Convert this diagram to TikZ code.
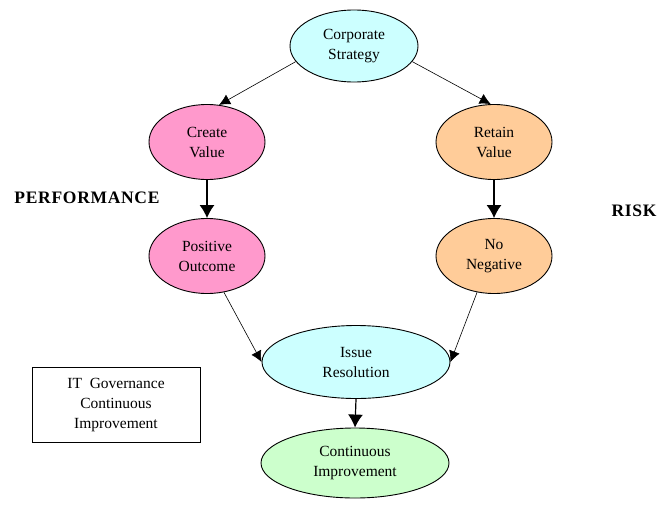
\documentclass[tikz,border=0pt]{standalone}
\usepackage{fontspec}
\setmainfont{Liberation Serif}
\usetikzlibrary{shapes.geometric,arrows.meta}
\definecolor{cyanfill}{HTML}{CCFFFF}
\definecolor{pinkfill}{HTML}{FF99CC}
\definecolor{orangefill}{HTML}{FFCC99}
\definecolor{greenfill}{HTML}{CCFFCC}
\begin{document}
\begin{tikzpicture}[x=1pt,y=-1pt,
  oval/.style={ellipse,draw,line width=0.9pt,inner sep=0pt,align=center,font=\fontsize{15.5}{20}\selectfont},
  thin arrow/.style={-{Latex[length=11pt,width=11pt]},line width=0.6pt},
  thick arrow/.style={-{Latex[length=13pt,width=15pt]},line width=1.2pt},
  lab/.style={font=\fontsize{17.5}{20}\selectfont\bfseries\addfontfeatures{LetterSpace=4}}]
\useasboundingbox (0,0) rectangle (660,506);
\node[oval,fill=cyanfill,minimum width=128pt,minimum height=72pt] (cs) at (354,46) {Corporate\\Strategy};
\node[oval,fill=pinkfill,minimum width=116pt,minimum height=75pt] (cv) at (207,142) {Create\\Value};
\node[oval,fill=orangefill,minimum width=116pt,minimum height=75pt] (rv) at (494,142) {Retain\\Value};
\node[oval,fill=pinkfill,minimum width=116pt,minimum height=75pt] (po) at (207,256) {Positive\\Outcome};
\node[oval,fill=orangefill,minimum width=116pt,minimum height=75pt] (nn) at (494,256) {No\\Negative};
\node[oval,fill=cyanfill,minimum width=188pt,minimum height=73pt] (ir) at (356,362) {Issue\\Resolution};
\node[oval,fill=greenfill,minimum width=188pt,minimum height=70pt] (ci) at (355,463) {Continuous\\Improvement};
\node[draw,line width=0.9pt,minimum width=168pt,minimum height=75pt,align=center,font=\fontsize{15.5}{20}\selectfont] (itg) at (116,405) {IT\ \ Governance\\Continuous\\Improvement};
\node[lab] (perf) at (87,198) {PERFORMANCE};
\node[lab] (risk) at (634,211) {RISK};
\draw[thin arrow] (cs.195) -- (cv.72);
\draw[thin arrow] (cs.-15) -- (rv.95);
\draw[thick arrow] (cv.south) -- (po.north);
\draw[thick arrow] (rv.south) -- (nn.north);
\draw[thin arrow] (po.-65) -- (ir.180);
\draw[thin arrow] (nn.-115) -- (ir.0);
\draw[thick arrow] (ir.south) -- (ci.north);
\end{tikzpicture}
\end{document}
